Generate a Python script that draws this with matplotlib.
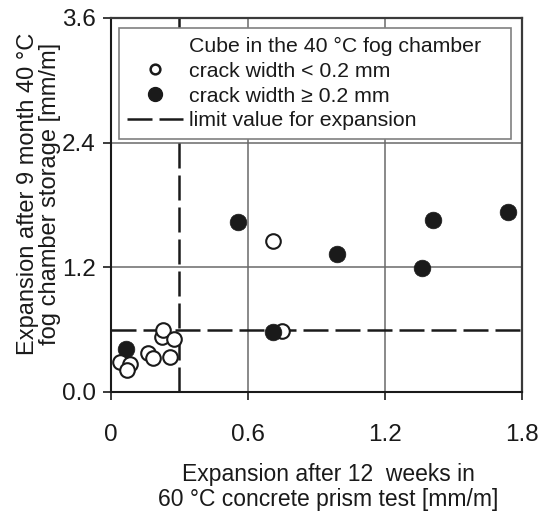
import matplotlib
matplotlib.use("Agg")
import matplotlib.pyplot as plt
from matplotlib.lines import Line2D

plt.rcParams['font.family'] = ['Liberation Sans', 'DejaVu Sans']

# expansion in 60 °C concrete prism test after 12 weeks [mm/m]
prism_exp = [0.066, 0.558, 0.990, 1.361, 1.409, 1.740,
             0.039, 0.085, 0.070, 0.163, 0.185, 0.258, 0.222, 0.229, 0.277,
             0.711, 0.750, 0.711]
# expansion of cubes after 9 months in 40 °C fog chamber [mm/m]
cube_exp = [0.41, 1.639, 1.328, 1.19, 1.655, 1.735,
            0.29, 0.27, 0.21, 0.372, 0.33, 0.34, 0.532, 0.597, 0.51,
            1.456, 0.587, 0.580]
# crack width >= 0.2 mm (filled) or < 0.2 mm (open), in drawing order
wide_crack = [True, True, True, True, True, True,
              False, False, False, False, False, False, False, False, False,
              False, False, True]

limit_prism = 0.3
limit_cube = 0.6

x_ticks = [0, 0.6, 1.2, 1.8]
x_tick_labels = ['0', '0.6', '1.2', '1.8']
y_ticks = [0.0, 1.2, 2.4, 3.6]
y_tick_labels = ['0.0', '1.2', '2.4', '3.6']

ink = '#1a1a1a'
dash = (10, 2.8)

fig = plt.figure(figsize=(5.44, 5.11), dpi=100)
ax = fig.add_axes([0.204, 0.2329, 0.7556, 0.7319])

ax.set_xlim(0, 1.8)
ax.set_ylim(0, 3.6)
ax.set_xticks(x_ticks)
ax.set_xticklabels(x_tick_labels)
ax.set_yticks(y_ticks)
ax.set_yticklabels(y_tick_labels)
ax.tick_params(direction='out', length=6, width=1.2, labelsize=17.5, colors=ink)
ax.tick_params(axis='x', pad=17)
ax.tick_params(axis='y', pad=5)

ax.grid(True, color='#6a6a6a', linewidth=1.1, zorder=0)
ax.set_axisbelow(True)
for side in ['left', 'bottom']:
    ax.spines[side].set_linewidth(1.5)
    ax.spines[side].set_color(ink)
for side in ['top', 'right']:
    ax.spines[side].set_linewidth(1.6)
    ax.spines[side].set_color('#3a3a3a')

# limit values for expansion
ax.axvline(limit_prism, color=ink, linewidth=1.8, dashes=dash, zorder=2)
ax.axhline(limit_cube, color=ink, linewidth=1.8, dashes=dash, zorder=2)

for i, (px, cy, wide) in enumerate(zip(prism_exp, cube_exp, wide_crack)):
    if wide:
        ax.plot(px, cy, 'o', ms=12, mfc=ink, mec=ink, mew=0.5, zorder=3 + i * 0.01)
    else:
        ax.plot(px, cy, 'o', ms=10.5, mfc='white', mec=ink, mew=1.5, zorder=3 + i * 0.01)

handles = [
    Line2D([], [], linestyle='none', marker=None),
    Line2D([], [], linestyle='none', marker='o', ms=7, mfc='white', mec=ink, mew=1.8),
    Line2D([], [], linestyle='none', marker='o', ms=10, mfc=ink, mec=ink),
    Line2D([], [], color=ink, linewidth=1.8, dashes=dash),
]
labels = ['Cube in the 40 °C fog chamber',
          'crack width < 0.2 mm',
          'crack width ≥ 0.2 mm',
          'limit value for expansion']
leg = ax.legend(handles, labels, loc='upper left',
                bbox_to_anchor=(0.0195, 0.0, 0.954, 0.973), mode='expand',
                borderaxespad=0, fontsize=15.3, frameon=True, fancybox=False,
                edgecolor='#808080', framealpha=1, numpoints=1,
                handlelength=2.6, handletextpad=0.3, labelspacing=0.28,
                borderpad=0.4)
leg.get_frame().set_linewidth(1.2)
leg.set_zorder(5)
for t in leg.get_texts():
    t.set_color(ink)

fig.text(39 / 544, 1 - 194 / 511,
         'Expansion after 9 month 40 °C\nfog chamber storage [mm/m]',
         rotation=90, ha='center', va='center', multialignment='center',
         fontsize=17, color=ink, linespacing=1.05)
fig.text(328 / 544, 1 - 487 / 511,
         'Expansion after 12  weeks in\n60 °C concrete prism test [mm/m]',
         ha='center', va='center', multialignment='center',
         fontsize=16.5, color=ink, linespacing=1.1)

fig.savefig('out.png', dpi=100)
